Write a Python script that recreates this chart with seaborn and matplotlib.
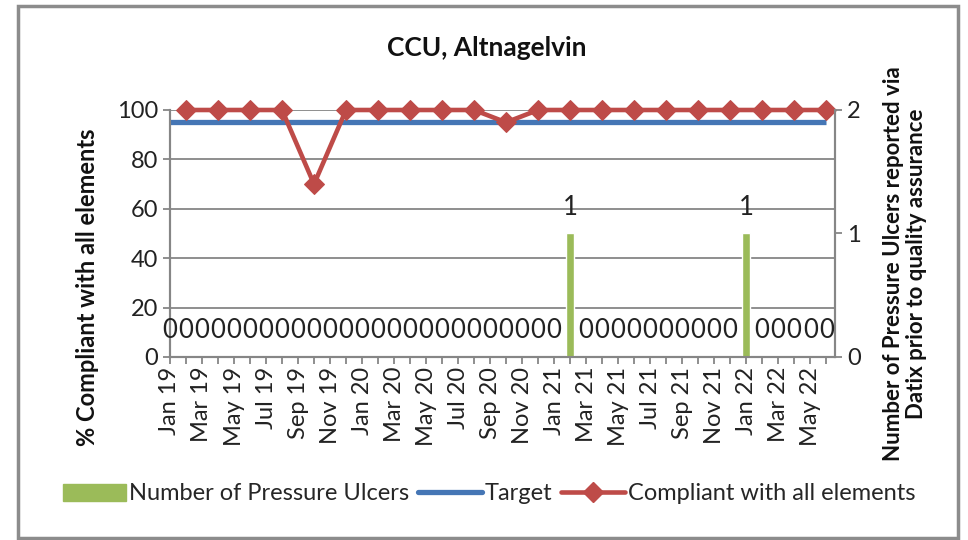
import pandas as pd
import matplotlib
matplotlib.use('Agg')
import matplotlib.pyplot as plt
import seaborn as sns
from matplotlib.patches import Patch, Rectangle
from matplotlib.lines import Line2D
from matplotlib.ticker import FixedLocator

# Data
month_names = ['Jan', 'Feb', 'Mar', 'Apr', 'May', 'Jun',
               'Jul', 'Aug', 'Sep', 'Oct', 'Nov', 'Dec']
months = [f'{m} {y}' for y in ['19', '20', '21', '22'] for m in month_names][:42]  # Jan 19 .. Jun 22

ulcers = [0, 0, 0, 0, 0, 0, 0, 0, 0, 0, 0, 0,
          0, 0, 0, 0, 0, 0, 0, 0, 0, 0, 0, 0,
          0, 1, 0, 0, 0, 0, 0, 0, 0, 0, 0, 0,
          1, 0, 0, 0, 0, 0]
target = [95] * 42

comp_months = ['Feb 19', 'Apr 19', 'Jun 19', 'Aug 19', 'Oct 19', 'Dec 19',
               'Feb 20', 'Apr 20', 'Jun 20', 'Aug 20', 'Oct 20', 'Dec 20',
               'Feb 21', 'Apr 21', 'Jun 21', 'Aug 21', 'Oct 21', 'Dec 21',
               'Feb 22', 'Apr 22', 'Jun 22']
compliance = [100, 100, 100, 100, 70, 100, 100, 100, 100, 100, 95,
              100, 100, 100, 100, 100, 100, 100, 100, 100, 100]

monthly = pd.DataFrame({'month': months, 'ulcers': ulcers, 'target': target})
monthly['idx'] = range(len(months))
comp = pd.DataFrame({'month': comp_months, 'compliance': compliance})
comp['idx'] = [months.index(m) for m in comp_months]

# Style
sns.set_theme(style='white')
plt.rcParams['font.family'] = ['Lato', 'DejaVu Sans']
fs = 17
green = '#9BBB59'
blue = '#4576B5'
red = '#BE4B48'
gray = '#868686'

fig = plt.figure(figsize=(9.68, 5.4), dpi=100)
ax = fig.add_axes([0.1756, 0.3389, 0.6870, 0.4574])
ax2 = ax.twinx()

# lines on the primary axis
sns.lineplot(data=monthly, x='idx', y='target', ax=ax, color=blue, lw=3.8,
             solid_capstyle='butt', clip_on=False, zorder=3)
sns.lineplot(data=comp, x='idx', y='compliance', ax=ax, color=red, lw=3.3,
             marker='D', markersize=10.5, markeredgecolor=red, clip_on=False, zorder=4)

# bars on the secondary axis
sns.barplot(data=monthly, x='idx', y='ulcers', ax=ax2, native_scale=True,
            width=0.5, color=green, saturation=1, errorbar=None)
for i, v in zip(monthly['idx'], monthly['ulcers']):
    ax2.annotate(str(v), (i, v), xytext=(0, 19), textcoords='offset points',
                 ha='center', va='center', fontsize=18.5, color='#222222')

ax.set_xlim(0, 41.55)
ax.set_ylim(0, 100)
ax2.set_ylim(0, 2)
ax.set_yticks([0, 20, 40, 60, 80, 100])
ax2.set_yticks([0, 1, 2])
ax.set_xticks(monthly['idx'][::2])
ax.set_xticklabels(months[::2], rotation=90)
ax.xaxis.set_minor_locator(FixedLocator(list(monthly['idx'])))
ax.set_xlabel('')
ax.set_ylabel('')
ax2.set_xlabel('')
ax2.set_ylabel('')

ax.yaxis.grid(True, color=gray, lw=1.3)
ax.set_axisbelow(True)
for a in (ax, ax2):
    a.spines['top'].set_visible(False)
    for s in ('left', 'right', 'bottom'):
        a.spines[s].set_color(gray)
        a.spines[s].set_linewidth(1.5)
ax.tick_params(axis='both', which='both', direction='out', color=gray,
               length=5, width=1.3, labelsize=fs, labelcolor='#222222')
ax.tick_params(axis='x', which='both', bottom=True, pad=2)
ax.tick_params(axis='y', left=True)
ax2.tick_params(axis='y', direction='out', right=True, color=gray, length=5,
                width=1.3, labelsize=fs, labelcolor='#222222')

# texts
fig.text(487 / 968, 1 - 48 / 540, 'CCU, Altnagelvin', ha='center', va='center',
         fontsize=19, fontweight='bold', color='#111111')
fig.text(88 / 968, 1 - 287 / 540, '% Compliant with all elements', rotation=90,
         ha='center', va='center', fontsize=fs, fontweight='bold', color='#111111')
fig.text(905 / 968, 1 - 264 / 540,
         'Number of Pressure Ulcers reported via\nDatix prior to quality assurance',
         rotation=90, ha='center', va='center', fontsize=16, fontweight='bold',
         color='#111111', linespacing=1.1)

handles = [Patch(color=green),
           Line2D([], [], color=blue, lw=3.8),
           Line2D([], [], color=red, lw=3.3, marker='D', markersize=10.5)]
labels = ['Number of Pressure Ulcers', 'Target', 'Compliant with all elements']
fig.legend(handles, labels, loc='center', bbox_to_anchor=(0.505, 1 - 494 / 540),
           ncol=3, frameon=False, fontsize=fs, handlelength=2.7,
           handletextpad=0.1, columnspacing=0.4)

fig.patches.append(Rectangle((18 / 968, 2 / 540), 940 / 968, 532 / 540,
                             transform=fig.transFigure, fill=False,
                             edgecolor='#8c8c8c', lw=2.5))

fig.savefig('out.png', dpi=100)
